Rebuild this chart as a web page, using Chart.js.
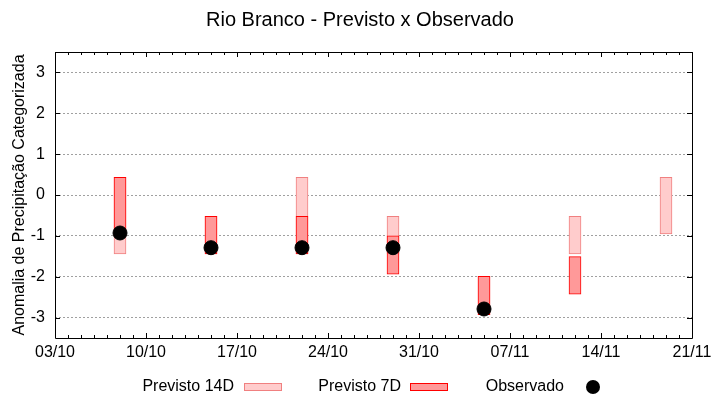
<!DOCTYPE html>
<html>
<head>
<meta charset="utf-8">
<script src="https://cdn.jsdelivr.net/npm/chart.js@4.4.0/dist/chart.umd.min.js"></script>
<style>
  html, body { margin: 0; padding: 0; background: #fff; }
  #wrap { width: 720px; height: 400px; }
</style>
</head>
<body>
<div id="wrap"><canvas id="chart"></canvas></div>
<script>
// weeks (dd/mm) and values
const weeks = ['08/10', '15/10', '22/10', '29/10', '05/11', '12/11', '19/11'];
const prev14Min = [-1.44, -1.44, -1.44, -1.44, -2.93, -1.44, -0.95];
const prev14Max = [0.43, -0.52, 0.43, -0.52, -1.99, -0.52, 0.43];
const prev7Min = [-1.0, -1.44, -1.44, -1.94, -2.93, -2.43, null];
const prev7Max = [0.43, -0.52, -0.52, -1.0, -1.99, -1.51, null];
const observed = [-0.93, -1.29, -1.29, -1.29, -2.79, null, null];
const tickLabels = ['03/10', '10/10', '17/10', '24/10', '31/10', '07/11', '14/11', '21/11'];
const yTicks = [-3, -2, -1, 0, 1, 2, 3];

const startDate = '03/10';
const FONT = '"Liberation Sans", Arial, sans-serif';

// days since 03/10
function dayIndex(s) {
    const [d, m] = s.split('/').map(Number);
    const [d0, m0] = startDate.split('/').map(Number);
    return (Date.UTC(2000, m - 1, d) - Date.UTC(2000, m0 - 1, d0)) / 86400000;
}

function floating(mins, maxs) {
    const out = [];
    weeks.forEach((w, i) => {
        if (mins[i] !== null && maxs[i] !== null) out.push({ x: dayIndex(w), y: [mins[i], maxs[i]] });
    });
    return out;
}

const obsPoints = [];
weeks.forEach((w, i) => {
    if (observed[i] !== null) obsPoints.push({ x: dayIndex(w), y: observed[i] });
});

const lastDay = (tickLabels.length - 1) * 7;

// title, frame with inward ticks, legend
const decor = {
    id: 'decor',
    afterDraw(chart) {
        const ctx = chart.ctx;
        const a = chart.chartArea;
        const xs = chart.scales.x, ys = chart.scales.y;
        ctx.save();

        ctx.fillStyle = '#000';
        ctx.font = '20px ' + FONT;
        ctx.textAlign = 'center';
        ctx.textBaseline = 'middle';
        ctx.fillText('Rio Branco - Previsto x Observado', 360, 20);

        ctx.strokeStyle = '#000';
        ctx.lineWidth = 1;
        ctx.beginPath();
        ctx.rect(Math.round(a.left) + 0.5, Math.round(a.top) + 0.5,
                 Math.round(a.right - a.left), Math.round(a.bottom - a.top));
        for (let d = 0; d <= lastDay; d++) {
            const px = Math.round(xs.getPixelForValue(d)) + 0.5;
            const len = d % 7 === 0 ? 5 : 3;
            ctx.moveTo(px, a.bottom); ctx.lineTo(px, a.bottom - len);
            ctx.moveTo(px, a.top); ctx.lineTo(px, a.top + len);
        }
        yTicks.forEach(v => {
            const py = Math.round(ys.getPixelForValue(v)) + 0.5;
            ctx.moveTo(a.left, py); ctx.lineTo(a.left + 5, py);
            ctx.moveTo(a.right, py); ctx.lineTo(a.right - 5, py);
        });
        ctx.stroke();

        // legend
        const ds = chart.data.datasets;
        const ly = 387;
        ctx.font = '16px ' + FONT;
        ctx.textAlign = 'right';
        ctx.fillStyle = '#000';
        ctx.fillText(ds[2].label, 234, ly);
        ctx.fillText(ds[1].label, 401, ly);
        ctx.fillText(ds[0].label, 564, ly);
        [[ds[2], 244], [ds[1], 410]].forEach(([d, x]) => {
            ctx.fillStyle = d.backgroundColor;
            ctx.strokeStyle = d.borderColor;
            ctx.lineWidth = 1;
            ctx.fillRect(x, ly - 4, 38, 8);
            ctx.strokeRect(x + 0.5, ly - 3.5, 37, 7);
        });
        ctx.fillStyle = '#000';
        ctx.beginPath();
        ctx.arc(593, ly, 7, 0, Math.PI * 2);
        ctx.fill();
        ctx.restore();
    }
};

new Chart(document.getElementById('chart'), {
    type: 'bar',
    data: {
        datasets: [
            {
                type: 'scatter',
                label: 'Observado',
                data: obsPoints,
                backgroundColor: '#000',
                borderColor: '#000',
                pointRadius: 7,
                pointHoverRadius: 7,
                order: 0
            },
            {
                label: 'Previsto 7D',
                data: floating(prev7Min, prev7Max),
                backgroundColor: 'rgb(255,153,153)',
                borderColor: 'rgb(255,0,0)',
                borderWidth: 1,
                borderSkipped: false,
                grouped: false,
                barThickness: 12,
                order: 1
            },
            {
                label: 'Previsto 14D',
                data: floating(prev14Min, prev14Max),
                backgroundColor: 'rgb(255,204,204)',
                borderColor: 'rgb(240,128,128)',
                borderWidth: 1,
                borderSkipped: false,
                grouped: false,
                barThickness: 12,
                order: 2
            }
        ]
    },
    options: {
        responsive: true,
        maintainAspectRatio: false,
        animation: false,
        layout: { padding: { top: 52, right: 28, bottom: 0, left: 0 } },
        plugins: {
            legend: { display: false },
            title: { display: false },
            tooltip: { enabled: false }
        },
        scales: {
            x: {
                type: 'linear',
                min: 0,
                max: lastDay,
                offset: false,
                grid: { display: false, drawTicks: false },
                border: { display: false },
                ticks: {
                    stepSize: 7,
                    padding: 5,
                    maxRotation: 0,
                    autoSkip: false,
                    color: '#000',
                    font: { family: FONT, size: 16 },
                    callback: v => tickLabels[v / 7] || ''
                },
                afterFit: s => { s.height = 62; }
            },
            y: {
                min: -3.5,
                max: 3.5,
                grid: { color: '#a0a0a0', lineWidth: 1, drawTicks: false },
                border: { display: false, dash: [2, 2] },
                ticks: {
                    padding: 10,
                    color: '#000',
                    font: { family: FONT, size: 16 }
                },
                afterBuildTicks: s => { s.ticks = yTicks.map(v => ({ value: v })); },
                title: {
                    display: true,
                    text: 'Anomalia de Precipitação Categorizada',
                    color: '#000',
                    font: { family: FONT, size: 16 },
                    padding: { top: 10, bottom: 0 }
                },
                afterFit: s => { s.width = 55; }
            }
        }
    },
    plugins: [decor]
});
</script>
</body>
</html>
